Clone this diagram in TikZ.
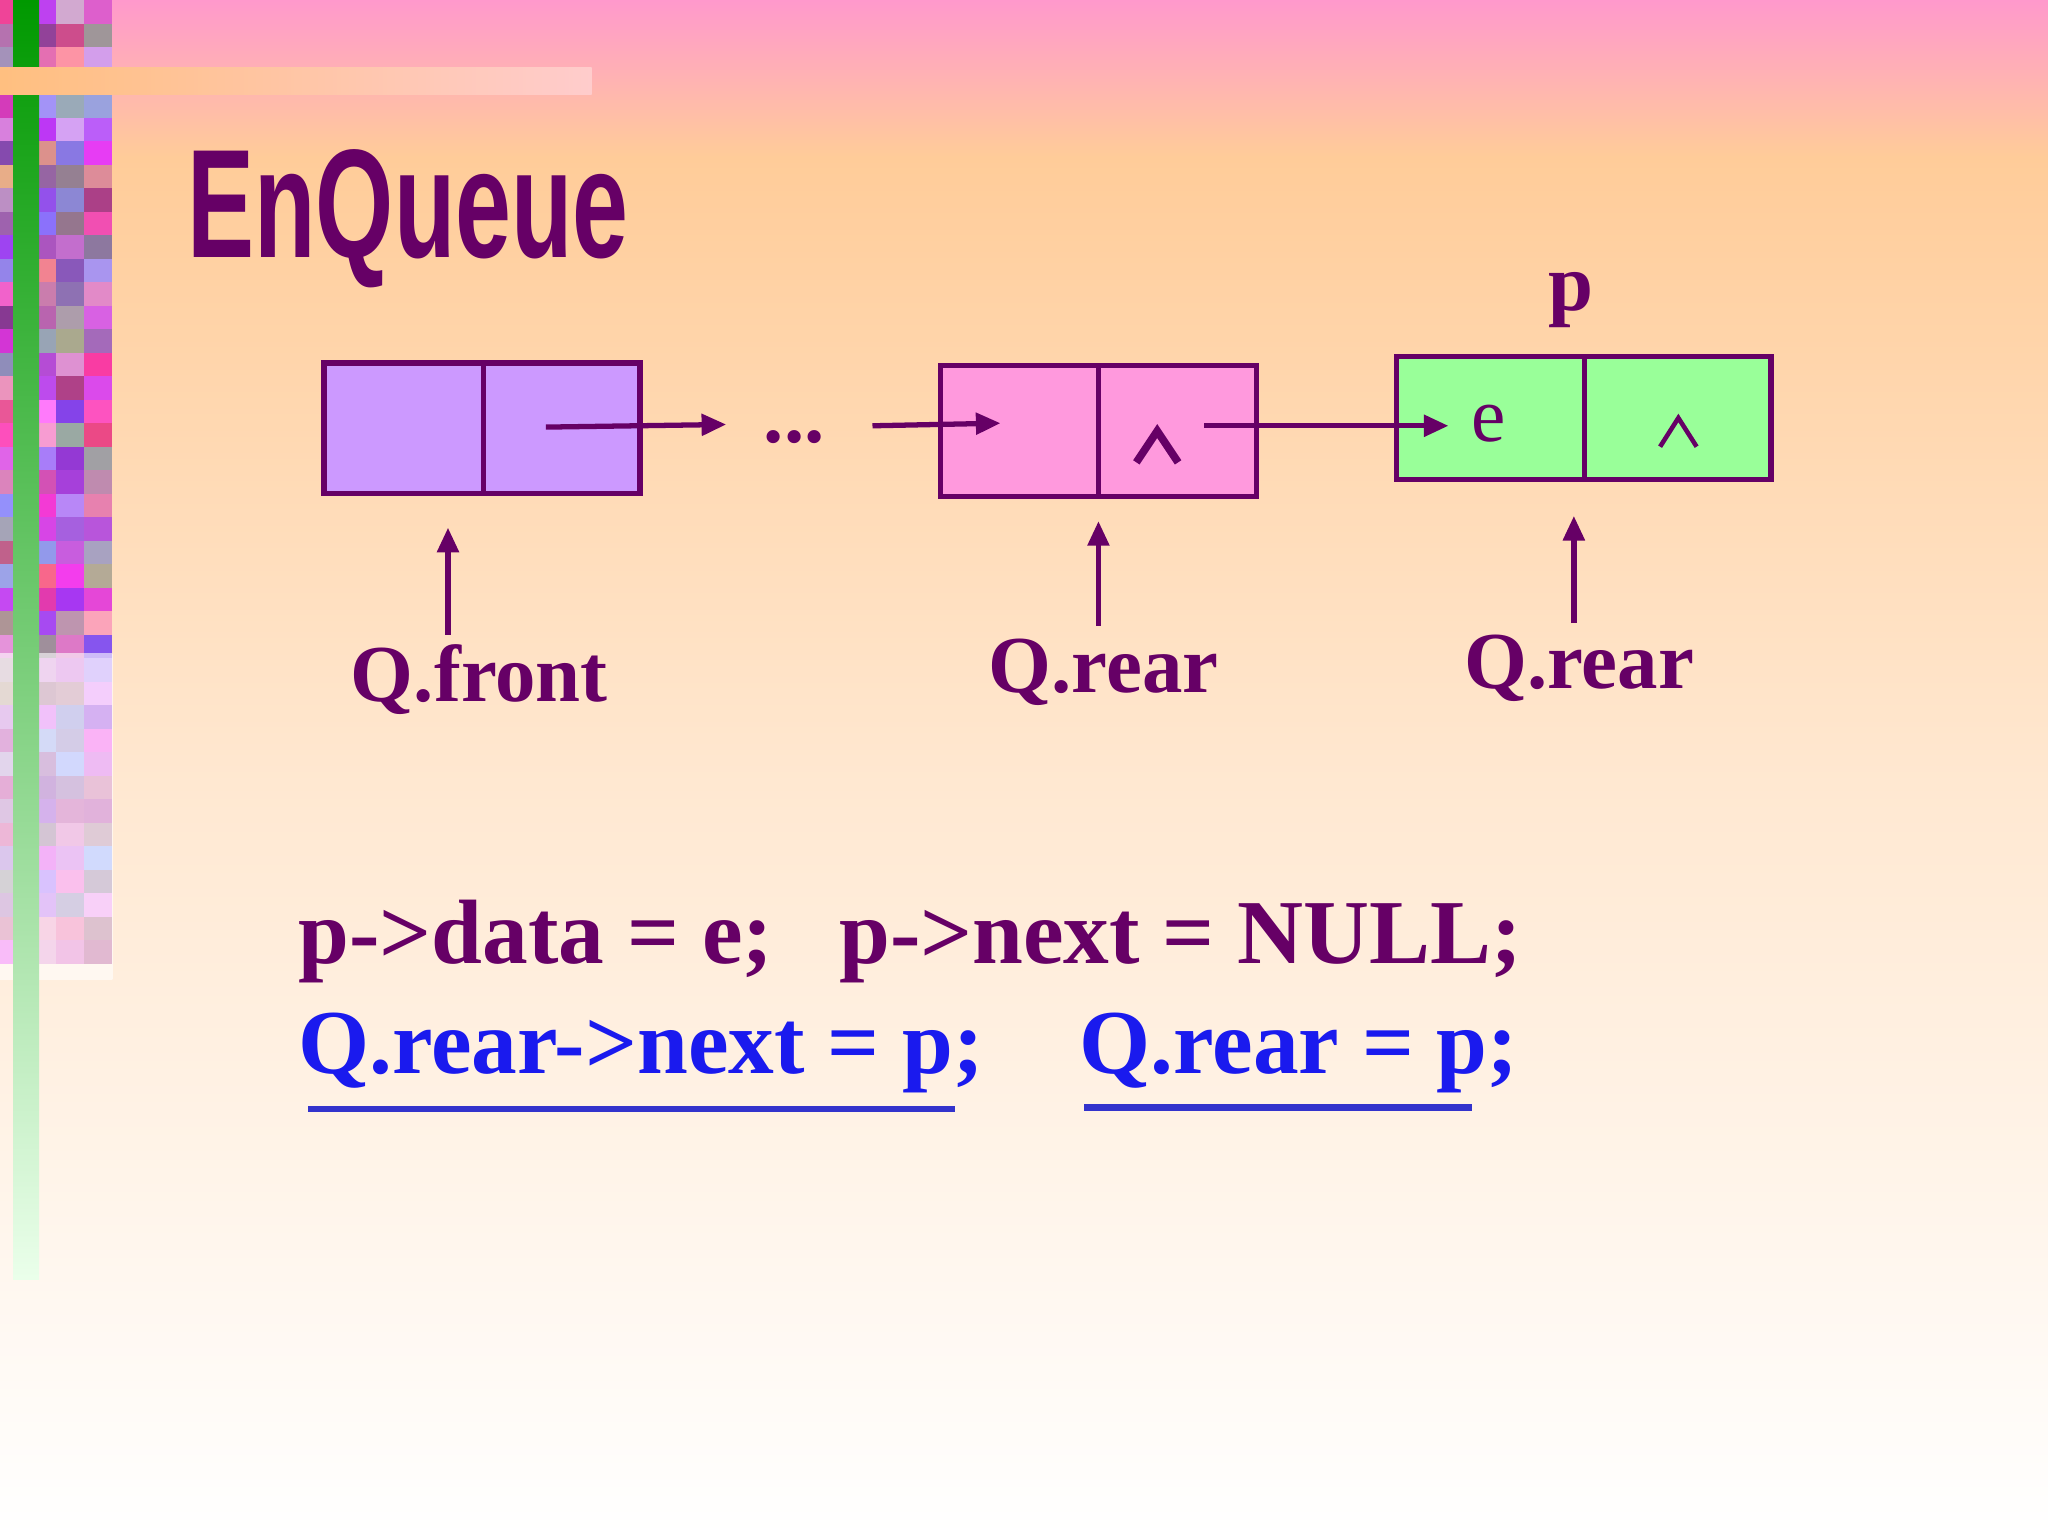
\documentclass[tikz,border=0pt]{standalone}
\usepackage{fontspec}
\setmainfont{Liberation Serif}
\newfontfamily\titlefont{Liberation Sans}
\usetikzlibrary{arrows.meta}
\definecolor{dp}{HTML}{660066}
\definecolor{bpurple}{HTML}{CC99FF}
\definecolor{bpink}{HTML}{FF99DD}
\definecolor{bgreen}{HTML}{99FF99}
\definecolor{codeblue}{HTML}{1A1AEE}
\definecolor{ulblue}{HTML}{3333CC}
\definecolor{toppink}{HTML}{FF99CC}
\definecolor{midorange}{HTML}{FFCC99}
\tikzset{
  cell/.style={draw=dp,line width=1.5pt},
  link/.style={draw=dp,line width=1.5pt,-{Triangle[length=7pt,width=6pt]}},
  lbl/.style={text=dp,font=\bfseries\fontsize{23}{23}\selectfont,inner sep=0pt},
  codeA/.style={text=dp,font=\bfseries\fontsize{26}{26}\selectfont,inner sep=0pt,anchor=base west},
  codeB/.style={text=codeblue,font=\bfseries\fontsize{26}{26}\selectfont,inner sep=0pt,anchor=base west},
}
\begin{document}
\begin{tikzpicture}[x=0.01306cm,y=-0.01306cm]
\useasboundingbox (0,0) rectangle (1568,1176);
% background
\shade[top color=toppink, bottom color=midorange] (0,0) rectangle (1568,120);
\shade[top color=midorange, bottom color=midorange!45] (0,120) rectangle (1568,600);
\shade[top color=midorange!45, bottom color=white] (0,600) rectangle (1568,1176);
% left strip texture
\pgfmathsetseed{7}
\foreach \i in {0,...,40}{
  \foreach \j in {0,...,3}{
    \pgfmathsetmacro{\r}{rnd}
    \pgfmathsetmacro{\g}{rnd}
    \pgfmathsetmacro{\b}{rnd}
    \definecolor{tc}{rgb}{\r,\g,\b}
    \fill[tc!60!magenta!80] (\j*21.5,\i*18) rectangle +(21.5,18);
  }
}
\shade[top color=white!0, bottom color=white, opacity=0.6] (0,500) rectangle (86,750);
\shade[top color=green!60!black, bottom color=green!8] (10,0) rectangle (30,980);
\shade[left color=orange!50, right color=pink!80] (0,52) rectangle (453,72);
% title
\node[text=dp,anchor=base west,inner sep=0pt] (title) at (143,197) {\titlefont\bfseries\fontsize{44}{44}\selectfont\scalebox{0.65}[1]{EnQueue}};
% nodes
\draw[cell,fill=bpurple] (248,278) rectangle (490,378); \draw[cell] (370,278) -- (370,378);
\node (n1) at (369,328) {};
\draw[cell,fill=bpink] (720,280) rectangle (962,380); \draw[cell] (841,280) -- (841,380);
\node (n2) at (841,330) {};
\draw[cell,fill=bgreen] (1069,273) rectangle (1356,367); \draw[cell] (1213,273) -- (1213,367);
\node (n3) at (1212,320) {};
\node[lbl] (dots) at (608,335) {...};
\node[text=dp,font=\fontsize{22}{22}\selectfont] (e) at (1140,324) {e};
\draw[dp,line width=2.2pt] (870,354) -- (886,330) -- (902,354);
\draw[dp,line width=1.3pt] (1271,342) -- (1285,320) -- (1299,342);
\node[lbl] (p) at (1203,230) {p};
\coordinate (a1s) at (418,327); \coordinate (a1e) at (556,325);
\coordinate (a2s) at (668,326); \coordinate (a2e) at (766,324);
\coordinate (a3s) at (922,326); \coordinate (a3e) at (1109,326);
\draw[link] (a1s) -- (a1e);
\draw[link] (a2s) -- (a2e);
\draw[link] (a3s) -- (a3e);
\node[lbl] (qf) at (367,520) {Q.front};
\node[lbl] (qr1) at (845,515) {Q.rear};
\node[lbl] (qr2) at (1209,512) {Q.rear};
\coordinate (v1) at (343,486); \coordinate (v1e) at (343,404);
\coordinate (v2) at (841,479); \coordinate (v2e) at (841,399);
\coordinate (v3) at (1205,477); \coordinate (v3e) at (1205,395);
\draw[link] (v1) -- (v1e);
\draw[link] (v2) -- (v2e);
\draw[link] (v3) -- (v3e);
% code
\node[codeA] (c1) at (228,738) {p->data = e;};
\node[codeA] (c2) at (642,738) {p->next = NULL;};
\node[codeB] (c3) at (228,822) {Q.rear->next = p;};
\node[codeB] (c4) at (826,822) {Q.rear = p;};
\draw[ulblue,line width=1.8pt] (236,849) -- (731,849);
\draw[ulblue,line width=1.8pt] (830,848) -- (1127,848);
\end{tikzpicture}
\end{document}
